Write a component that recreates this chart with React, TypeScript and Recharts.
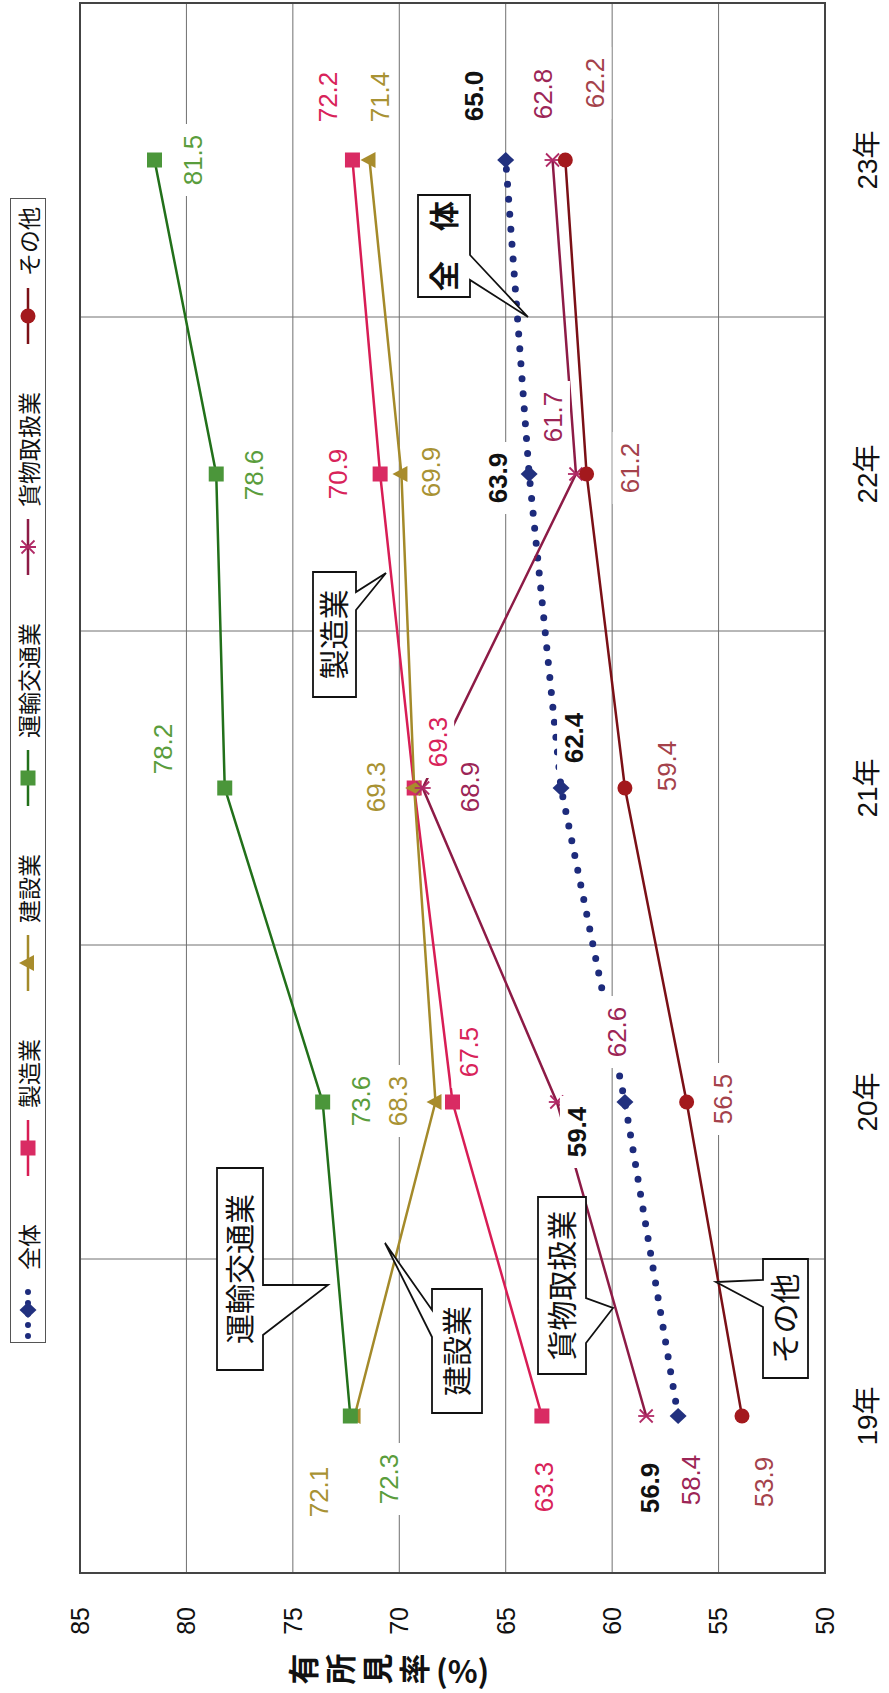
import React from 'react';
import { ComposedChart, Line, XAxis, YAxis, CartesianGrid } from 'recharts';

// chart drawn in landscape, then the whole thing is turned 90deg like the printed page
const W = 1693;
const H = 889;
const PLOT_LEFT = 120;
const PLOT_TOP = 80;
const PLOT_RIGHT = 1690;
const PLOT_BOTTOM = 825;
const Y_AXIS_W = 60;

const years = ['19年', '20年', '21年', '22年', '23年'];
const zentai = [56.9, 59.4, 62.4, 63.9, 65.0];
const seizo = [63.3, 67.5, 69.3, 70.9, 72.2];
const kensetsu = [72.1, 68.3, 69.3, 69.9, 71.4];
const unyu = [72.3, 73.6, 78.2, 78.6, 81.5];
const kamotsu = [58.4, 62.6, 68.9, 61.7, 62.8];
const sonota = [53.9, 56.5, 59.4, 61.2, 62.2];
const yTicks = [50, 55, 60, 65, 70, 75, 80, 85];

const data = years.map((year, i) => ({
  year,
  zentai: zentai[i],
  seizo: seizo[i],
  kensetsu: kensetsu[i],
  unyu: unyu[i],
  kamotsu: kamotsu[i],
  sonota: sonota[i],
}));

// half a category band, so points sit in the middle of each band
const HALF_BAND = (PLOT_RIGHT - PLOT_LEFT) / years.length / 2;

type Shape = 'diamond' | 'square' | 'triangle' | 'asterisk' | 'circle';

const series: { key: string; name: string; line: string; marker: string; label: string; shape: Shape; dotted?: boolean; bold?: boolean }[] = [
  { key: 'zentai', name: '全体', line: '#1d2b7c', marker: '#22317f', label: '#111111', shape: 'diamond', dotted: true, bold: true },
  { key: 'seizo', name: '製造業', line: '#d81d55', marker: '#d92b63', label: '#d8235a', shape: 'square' },
  { key: 'kensetsu', name: '建設業', line: '#a48a2a', marker: '#a88c2c', label: '#a89233', shape: 'triangle' },
  { key: 'unyu', name: '運輸交通業', line: '#22701a', marker: '#4b963a', label: '#5a9d3c', shape: 'square' },
  { key: 'kamotsu', name: '貨物取扱業', line: '#8d1b46', marker: '#b02a66', label: '#9c2556', shape: 'asterisk' },
  { key: 'sonota', name: 'その他', line: '#7b1016', marker: '#a3191d', label: '#a4424b', shape: 'circle' },
];

// where each value label sits relative to its point (landscape coords)
const labelOffsets: Record<string, [number, number][]> = {
  zentai: [[-72, -28], [-30, -48], [50, 13], [-4, -31], [64, -32]],
  seizo: [[-71, 2], [50, 16], [46, 23], [0, -42], [63, -25]],
  kensetsu: [[-76, -36], [1, -38], [1, -39], [2, 29], [63, 10]],
  unyu: [[-63, 38], [1, 38], [39, -62], [-1, 37], [0, 38]],
  kamotsu: [[-64, 44], [70, 60], [1, 47], [57, -23], [66, -10]],
  sonota: [[-66, 22], [3, 36], [22, 42], [6, 43], [77, 29]],
};

type Callout = { text: string; x: number; y: number; w: number; h: number; side: 'top' | 'bottom'; b1: number; b2: number; tip: [number, number]; bold?: boolean; size: number };

const callouts: Callout[] = [
  { text: '運輸交通業', x: 323, y: 217, w: 202, h: 46, side: 'bottom', b1: 408, b2: 358, tip: [408, 328], size: 30 },
  { text: '建設業', x: 280, y: 432, w: 124, h: 50, side: 'top', b1: 356, b2: 383, tip: [450, 385], size: 30 },
  { text: '貨物取扱業', x: 319, y: 538, w: 177, h: 48, side: 'bottom', b1: 395, b2: 350, tip: [385, 613], size: 30 },
  { text: 'その他', x: 315, y: 763, w: 119, h: 45, side: 'top', b1: 386, b2: 413, tip: [411, 716], size: 30 },
  { text: '製造業', x: 996, y: 313, w: 125, h: 43, side: 'bottom', b1: 1101, b2: 1083, tip: [1120, 386], size: 30 },
  { text: '全　体', x: 1396, y: 418, w: 102, h: 52, side: 'bottom', b1: 1438, b2: 1413, tip: [1376, 528], size: 30, bold: true },
];

const NUM_FONT = '"Liberation Sans", Arial, "Noto Sans CJK JP", sans-serif';
const JP_FONT = '"Noto Sans CJK JP", "Liberation Sans", sans-serif';

const Marker = ({ cx, cy, shape, fill }: { cx: number; cy: number; shape: Shape; fill: string }) => {
  if (cx == null || cy == null) return null;
  switch (shape) {
    case 'diamond':
      return <polygon points={`${cx},${cy - 8.5} ${cx + 8},${cy} ${cx},${cy + 8.5} ${cx - 8},${cy}`} fill={fill} />;
    case 'square':
      return <rect x={cx - 7.5} y={cy - 7.5} width={15} height={15} fill={fill} />;
    case 'triangle':
      return <polygon points={`${cx},${cy - 9} ${cx + 8},${cy + 6} ${cx - 8},${cy + 6}`} fill={fill} />;
    case 'asterisk':
      return (
        <g stroke={fill} strokeWidth={1.8}>
          <line x1={cx} y1={cy - 8} x2={cx} y2={cy + 8} />
          <line x1={cx - 6.5} y1={cy - 6.5} x2={cx + 6.5} y2={cy + 6.5} />
          <line x1={cx - 6.5} y1={cy + 6.5} x2={cx + 6.5} y2={cy - 6.5} />
        </g>
      );
    case 'circle':
      return <circle cx={cx} cy={cy} r={7.5} fill={fill} />;
  }
  return null;
};

const makeLabel = (s: (typeof series)[number]) => (props: any) => {
  const idx = props.index ?? years.indexOf(props.payload?.year);
  const px = props.x ?? props.viewBox?.x;
  const py = props.y ?? props.viewBox?.y;
  if (px == null || py == null || idx < 0) return null;
  const [dx, dy] = labelOffsets[s.key][idx];
  const cx = px + dx;
  const cy = py + dy;
  const txt = Number(props.value).toFixed(1);
  const w = 72;
  const h = 34;
  return (
    <g key={`${s.key}-lab-${idx}`}>
      <rect x={cx - w / 2} y={cy - h / 2} width={w} height={h} fill="#ffffff" />
      <text x={cx} y={cy} dy="0.36em" textAnchor="middle" fontSize={26} fontFamily={NUM_FONT} fontWeight={s.bold ? 700 : 400} fill={s.label}>
        {txt}
      </text>
    </g>
  );
};

const calloutPath = (c: Callout) => {
  const { x, y, w, h, tip } = c;
  if (c.side === 'top') {
    return `M${x},${y} L${c.b1},${y} L${tip[0]},${tip[1]} L${c.b2},${y} L${x + w},${y} L${x + w},${y + h} L${x},${y + h} Z`;
  }
  const a = Math.max(c.b1, c.b2);
  const b = Math.min(c.b1, c.b2);
  return `M${x},${y} L${x + w},${y} L${x + w},${y + h} L${a},${y + h} L${tip[0]},${tip[1]} L${b},${y + h} L${x},${y + h} Z`;
};

const LegendIcon = ({ s }: { s: (typeof series)[number] }) => (
  <svg width={60} height={22} style={{ display: 'block' }}>
    {s.dotted ? (
      <line x1={4} y1={11} x2={58} y2={11} stroke={s.line} strokeWidth={6} strokeDasharray="0 11" strokeLinecap="round" />
    ) : (
      <line x1={2} y1={11} x2={58} y2={11} stroke={s.line} strokeWidth={2.5} />
    )}
    <Marker cx={30} cy={11} shape={s.shape} fill={s.marker} />
  </svg>
);

export default function App() {
  return (
    <div style={{ position: 'absolute', left: 0, top: 0, width: H, height: W, overflow: 'hidden', background: '#fff' }}>
      <div
        style={{
          position: 'absolute',
          left: 0,
          top: 0,
          width: W,
          height: H,
          transformOrigin: '0 0',
          transform: `translate(0px, ${W}px) rotate(-90deg)`,
        }}
      >
        <ComposedChart
          width={W}
          height={H}
          data={data}
          margin={{ top: PLOT_TOP, right: W - PLOT_RIGHT, bottom: 0, left: PLOT_LEFT - Y_AXIS_W }}
        >
          <CartesianGrid
            stroke="#707070"
            strokeWidth={1}
            verticalCoordinatesGenerator={({ offset }: any) =>
              years.map((_, i) => offset.left + (offset.width * i) / years.length).slice(1)
            }
          />
          <XAxis
            dataKey="year"
            height={H - PLOT_BOTTOM}
            axisLine={false}
            tickLine={false}
            tickSize={0}
            tickMargin={32}
            interval={0}
            padding={{ left: HALF_BAND, right: HALF_BAND }}
            tick={{ fontSize: 28, fill: '#111', fontFamily: NUM_FONT }}
          />
          <YAxis
            type="number"
            domain={[50, 85]}
            ticks={yTicks}
            width={Y_AXIS_W}
            axisLine={false}
            tickLine={false}
            tickSize={0}
            tickMargin={34}
            interval={0}
            tick={{ fontSize: 25, fill: '#111', fontFamily: NUM_FONT }}
          />
          {series.map((s) => (
            <Line
              key={s.key}
              dataKey={s.key}
              name={s.name}
              stroke={s.line}
              strokeWidth={s.dotted ? 7 : 2.5}
              strokeDasharray={s.dotted ? '0 15' : undefined}
              strokeLinecap={s.dotted ? 'round' : 'butt'}
              dot={(p: any) => <Marker key={`${s.key}-dot-${p.index}`} cx={p.cx} cy={p.cy} shape={s.shape} fill={s.marker} />}
              activeDot={false}
              isAnimationActive={false}
            />
          ))}
          {series.map((s) => (
            <Line
              key={`${s.key}-labels`}
              dataKey={s.key}
              stroke="none"
              dot={false}
              activeDot={false}
              legendType="none"
              isAnimationActive={false}
              label={makeLabel(s)}
            />
          ))}
        </ComposedChart>

        {/* legend */}
        <div
          style={{
            position: 'absolute',
            left: 350,
            top: 10,
            width: 1145,
            height: 36,
            boxSizing: 'border-box',
            border: '1.5px solid #555',
            background: '#fff',
            display: 'flex',
            alignItems: 'center',
            paddingLeft: 2,
            gap: 46,
            fontFamily: JP_FONT,
            fontSize: 23,
            color: '#111',
          }}
        >
          {series.map((s) => (
            <div key={s.key} style={{ display: 'flex', alignItems: 'center', gap: 10, whiteSpace: 'nowrap' }}>
              <LegendIcon s={s} />
              <span style={{ lineHeight: 1 }}>{s.name}</span>
            </div>
          ))}
        </div>

        {/* frame, axis title and callouts */}
        <svg width={W} height={H} style={{ position: 'absolute', left: 0, top: 0, pointerEvents: 'none' }}>
          <rect
            x={PLOT_LEFT}
            y={PLOT_TOP}
            width={PLOT_RIGHT - PLOT_LEFT}
            height={PLOT_BOTTOM - PLOT_TOP}
            fill="none"
            stroke="#444"
            strokeWidth={2}
          />
          <text
            x={24}
            y={288}
            fontSize={31}
            fontWeight={700}
            fontFamily={JP_FONT}
            fill="#111"
            style={{ writingMode: 'vertical-rl' } as any}
          >
            <tspan letterSpacing={6}>有所見率</tspan>
            <tspan letterSpacing={0}>(%)</tspan>
          </text>
          {callouts.map((c) => (
            <g key={c.text}>
              <path d={calloutPath(c)} fill="#fff" stroke="#111" strokeWidth={1.8} strokeLinejoin="miter" />
              <text
                x={c.x + c.w / 2}
                y={c.y + c.h / 2}
                dy="0.36em"
                textAnchor="middle"
                fontSize={c.size}
                fontWeight={c.bold ? 700 : 400}
                fontFamily={JP_FONT}
                fill="#111"
              >
                {c.text}
              </text>
            </g>
          ))}
        </svg>
      </div>
    </div>
  );
}
